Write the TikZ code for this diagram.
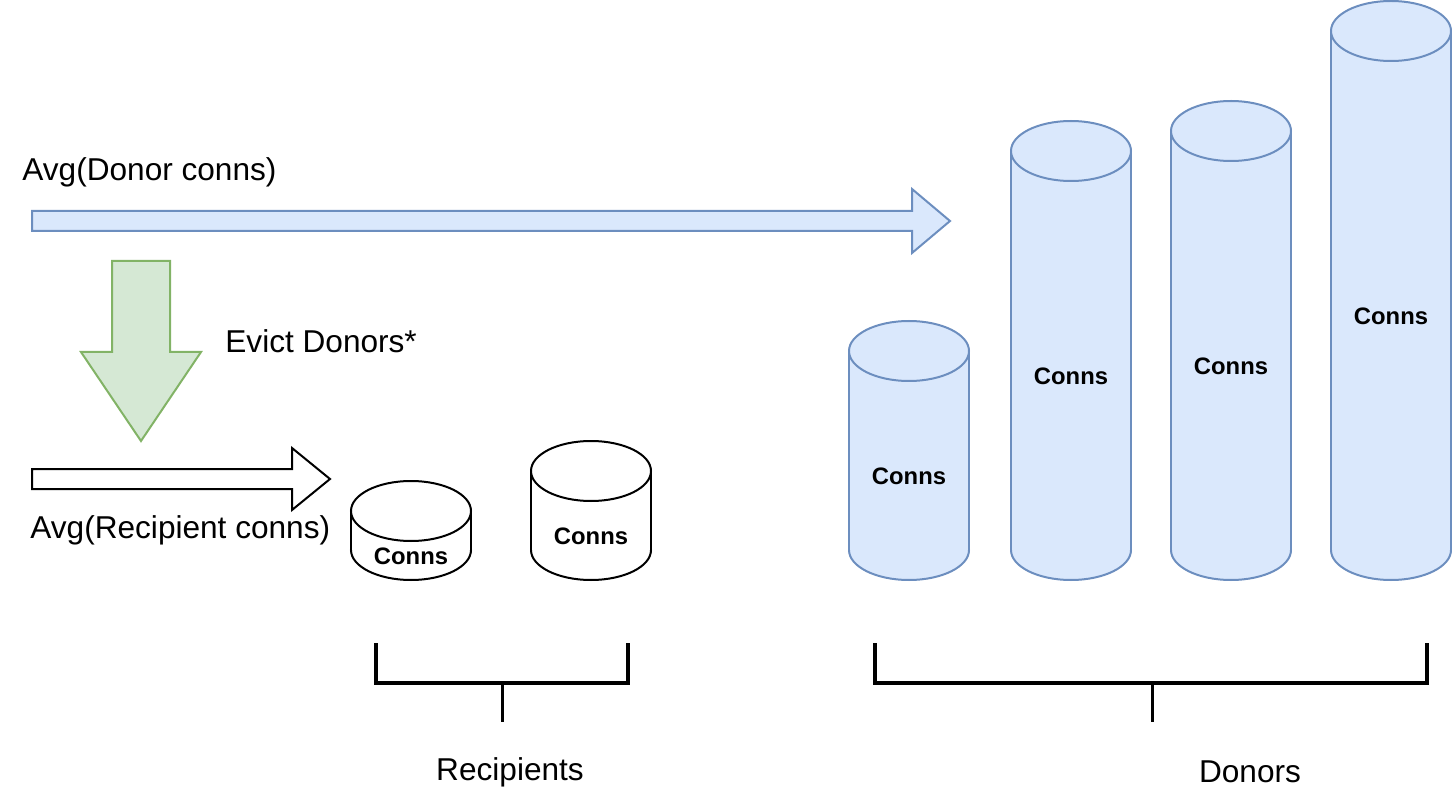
\documentclass[tikz,border=0pt]{standalone}
\usepackage{fontspec}
\setmainfont{Liberation Sans}
\definecolor{cylblue}{HTML}{DAE8FC}
\definecolor{cylline}{HTML}{6C8EBF}
\definecolor{evictgreen}{HTML}{D5E8D4}
\definecolor{evictline}{HTML}{82B366}
\tikzset{
  label/.style={inner sep=0pt, font=\fontsize{15.8pt}{18pt}\selectfont},
  conns/.style={inner sep=0pt, font=\fontsize{11.9pt}{14pt}\selectfont\bfseries},
  blockarrow/.style={line width=1pt, line join=miter},
  bracket/.style={line width=2pt},
  stem/.style={line width=1.5pt}
}
\begin{document}
\begin{tikzpicture}[x=0.5pt, y=-0.5pt]
      \useasboundingbox (0,0) rectangle (1452,802);
      % block arrows
      \draw[blockarrow, fill=cylblue, draw=cylline]
        (32,211) -- (912,211) -- (912,189) -- (950,221) -- (912,253)
        -- (912,231) -- (32,231) -- cycle;
      \draw[blockarrow, fill=evictgreen, draw=evictline]
        (112,261) -- (170,261) -- (170,352) -- (201,352) -- (141,441)
        -- (81,352) -- (112,352) -- cycle;
      \draw[blockarrow, fill=white, draw=black]
        (32,469) -- (292,469) -- (292,448) -- (330,479) -- (292,510)
        -- (292,489) -- (32,489) -- cycle;
      \node[label, anchor=west] (donoravg) at (22,172) {Avg(Donor conns)};
      \node[label, anchor=west] (evict) at (225,341) {Evict Donors*};
      \node[label, anchor=west] (recipavg) at (30,530) {Avg(Recipient conns)};
      % cylinders
      \foreach \x/\t/\f/\l/\n in {351/481/white/black/rcp1, 531/441/white/black/rcp2,
          849/321/cylblue/cylline/dnr1, 1011/121/cylblue/cylline/dnr2,
          1171/101/cylblue/cylline/dnr3, 1331/1/cylblue/cylline/dnr4} {
        \filldraw[fill=\f, draw=\l, line width=1pt] (\x+60,550) ellipse [x radius=60, y radius=30];
        \fill[\f] (\x,\t+30) rectangle (\x+120,550);
        \draw[\l, line width=1pt] (\x,\t+30) -- (\x,550) (\x+120,\t+30) -- (\x+120,550);
        \filldraw[fill=\f, draw=\l, line width=1pt] (\x+60,\t+30) ellipse [x radius=60, y radius=30];
        \node[conns] (\n) at (\x+60,{(\t+632)/2}) {Conns};
      }
      % brackets
      \draw[bracket] (376,643) -- (376,683) -- (628,683) -- (628,643);
      \draw[stem] (502,683) -- (502,722);
      \draw[bracket] (875,643) -- (875,683) -- (1427,683) -- (1427,643);
      \draw[stem] (1152,683) -- (1152,722);
      \node[label] (recipients) at (510,772) {Recipients};
      \node[label] (donors) at (1250,772) {Donors};
    \end{tikzpicture}
\end{document}
